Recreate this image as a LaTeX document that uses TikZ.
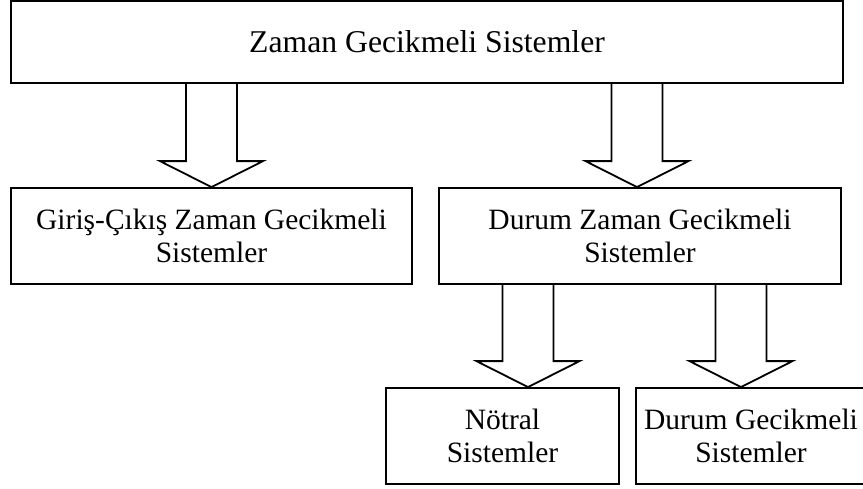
\documentclass[tikz,border=0pt]{standalone}
\usepackage{fontspec}
\setmainfont{Liberation Serif}
\usetikzlibrary{positioning}
\tikzstyle{sysbox} = [draw, line width=1.8pt, align=center, minimum height=96pt, inner sep=0pt, font=\fontsize{29.5}{33}\selectfont]
\tikzstyle{hollow} = [draw, line width=1.8pt, line join=miter]
\newcommand{\sysbox}[3]{node (s#1) [sysbox, #2] {#3}}
\newcommand{\hollowarrow}[2]{%
\path [hollow] ([xshift=-25.5pt]#1) -- ([xshift=-25.5pt,yshift=26pt]#2) -- ([xshift=-51.5pt,yshift=26pt]#2) -- (#2) -- ([xshift=51.5pt,yshift=26pt]#2) -- ([xshift=25.5pt,yshift=26pt]#2) -- ([xshift=25.5pt]#1);}
\begin{document}
\begin{tikzpicture}[x=1pt,y=1pt]
\useasboundingbox (0,0) rectangle (863,-488);
\path (427,-42) \sysbox{1}{minimum width=832pt, minimum height=82pt, font=\fontsize{31.7}{35}\selectfont}{Zaman Gecikmeli Sistemler};
\path (s1)+(-215.5,-194) \sysbox{2}{minimum width=401pt}{Giriş-Çıkış Zaman Gecikmeli\\Sistemler};
\path (s1)+(213,-194) \sysbox{3}{minimum width=402pt}{Durum Zaman Gecikmeli\\Sistemler};
\path (s3)+(-137.5,-200) \sysbox{4}{minimum width=233pt}{Nötral\\Sistemler};
\path (s3)+(111,-200) \sysbox{5}{minimum width=230pt}{Durum Gecikmeli\\Sistemler};

% block arrows
\coordinate (t1) at (s2.north);
\coordinate (c1) at (s1.south -| t1);
\hollowarrow{c1}{t1}
\coordinate (t2) at ([xshift=-3pt]s3.north);
\coordinate (c2) at (s1.south -| t2);
\hollowarrow{c2}{t2}
\coordinate (t3) at ([xshift=25.5pt]s4.north);
\coordinate (c3) at (s3.south -| t3);
\hollowarrow{c3}{t3}
\coordinate (t4) at ([xshift=-10pt]s5.north);
\coordinate (c4) at (s3.south -| t4);
\hollowarrow{c4}{t4}
\end{tikzpicture}
\end{document}
